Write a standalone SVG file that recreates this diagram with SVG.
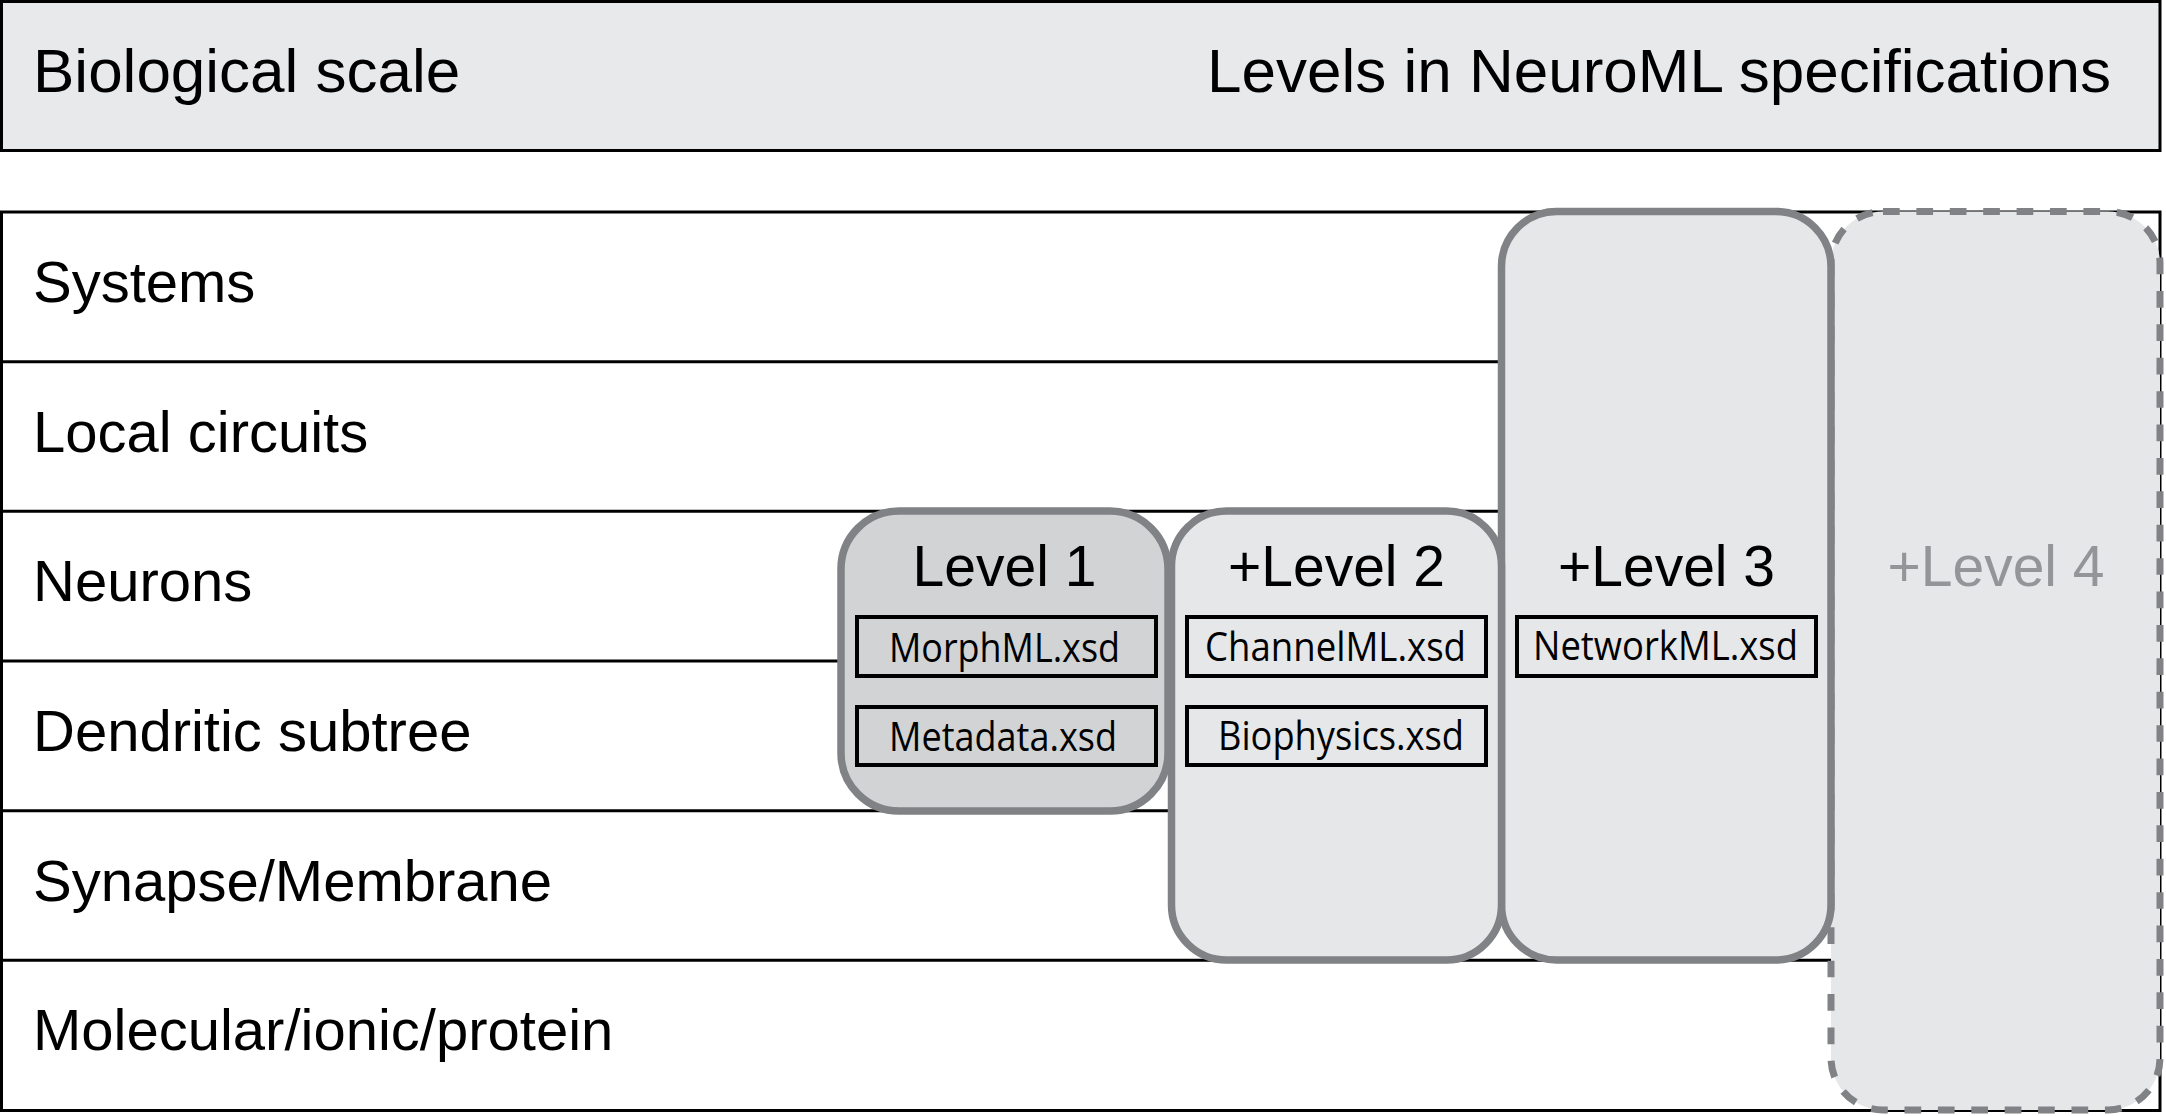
<svg xmlns="http://www.w3.org/2000/svg" width="2166" height="1116" viewBox="0 0 2166 1116">
<style>
.hdr{font-family:"Liberation Sans",Arial,sans-serif;font-size:62px;fill:#000}
.row{font-family:"Liberation Sans",Arial,sans-serif;font-size:58px;fill:#000}
.ttl{font-family:"Liberation Sans",Arial,sans-serif;font-size:57px;fill:#000;text-anchor:middle}
.xsd{font-family:"Open Sans","Noto Sans",sans-serif;font-size:40px;fill:#000}
.line{stroke:#000;stroke-width:3;fill:none}
.lvl{stroke:#808285;stroke-width:7.5}
.box{fill:none;stroke:#000;stroke-width:4}
</style>
<rect width="2166" height="1116" fill="#fff"/>
<g id="header">
<rect x="1.5" y="1.5" width="2158.5" height="149" fill="#e8e9eb" stroke="#000" stroke-width="3"/>
<text class="hdr" x="33" y="92">Biological scale</text>
<text class="hdr" x="2111" y="92" text-anchor="end">Levels in NeuroML specifications</text>
</g>
<g id="scale-table">
<rect x="1.5" y="212" width="2158.5" height="898.5" fill="#fff" class="line"/>
<line class="line" x1="1.5" y1="361.7" x2="2160" y2="361.7"/>
<line class="line" x1="1.5" y1="511.3" x2="2160" y2="511.3"/>
<line class="line" x1="1.5" y1="661" x2="2160" y2="661"/>
<line class="line" x1="1.5" y1="810.7" x2="2160" y2="810.7"/>
<line class="line" x1="1.5" y1="960.3" x2="2160" y2="960.3"/>
<text class="row" x="33" y="302">Systems</text>
<text class="row" x="33" y="452">Local circuits</text>
<text class="row" x="33" y="601">Neurons</text>
<text class="row" x="33" y="751">Dendritic subtree</text>
<text class="row" x="33" y="901">Synapse/Membrane</text>
<text class="row" x="33" y="1050">Molecular/ionic/protein</text>
</g>
<g id="level4">
<rect x="1831" y="211.5" width="329" height="898.5" rx="52" ry="52" fill="#e6e7e8" stroke="#808285" stroke-width="7" stroke-dasharray="16.7 16.7"/>
<text class="ttl" x="1996" y="586" style="fill:#939598">+Level 4</text>
</g>
<g id="level3">
<rect class="lvl" x="1501.5" y="211.5" width="329.5" height="748.5" rx="55" ry="55" fill="#e6e7e8"/>
<text class="ttl" x="1666.5" y="586">+Level 3</text>
<rect class="box" x="1517" y="617" width="299" height="59"/>
<text class="xsd" x="1533" y="660" textLength="265" lengthAdjust="spacingAndGlyphs">NetworkML.xsd</text>
</g>
<g id="level2">
<rect class="lvl" x="1171.5" y="511" width="330" height="449" rx="55" ry="55" fill="#e6e7e8"/>
<text class="ttl" x="1336.5" y="586">+Level 2</text>
<rect class="box" x="1187" y="617" width="299" height="59"/>
<text class="xsd" x="1205" y="661" textLength="261" lengthAdjust="spacingAndGlyphs">ChannelML.xsd</text>
<rect class="box" x="1187" y="707" width="299" height="58"/>
<text class="xsd" x="1218" y="750" textLength="246" lengthAdjust="spacingAndGlyphs">Biophysics.xsd</text>
</g>
<g id="level1">
<rect class="lvl" x="841" y="511" width="327" height="300" rx="58" ry="58" fill="#d1d3d4"/>
<text class="ttl" x="1004.5" y="586">Level 1</text>
<rect class="box" x="857" y="617" width="299" height="59"/>
<text class="xsd" x="889" y="662" textLength="231" lengthAdjust="spacingAndGlyphs">MorphML.xsd</text>
<rect class="box" x="857" y="707" width="299" height="58"/>
<text class="xsd" x="889" y="751" textLength="228" lengthAdjust="spacingAndGlyphs">Metadata.xsd</text>
</g>
<g id="connectors"></g>
</svg>
